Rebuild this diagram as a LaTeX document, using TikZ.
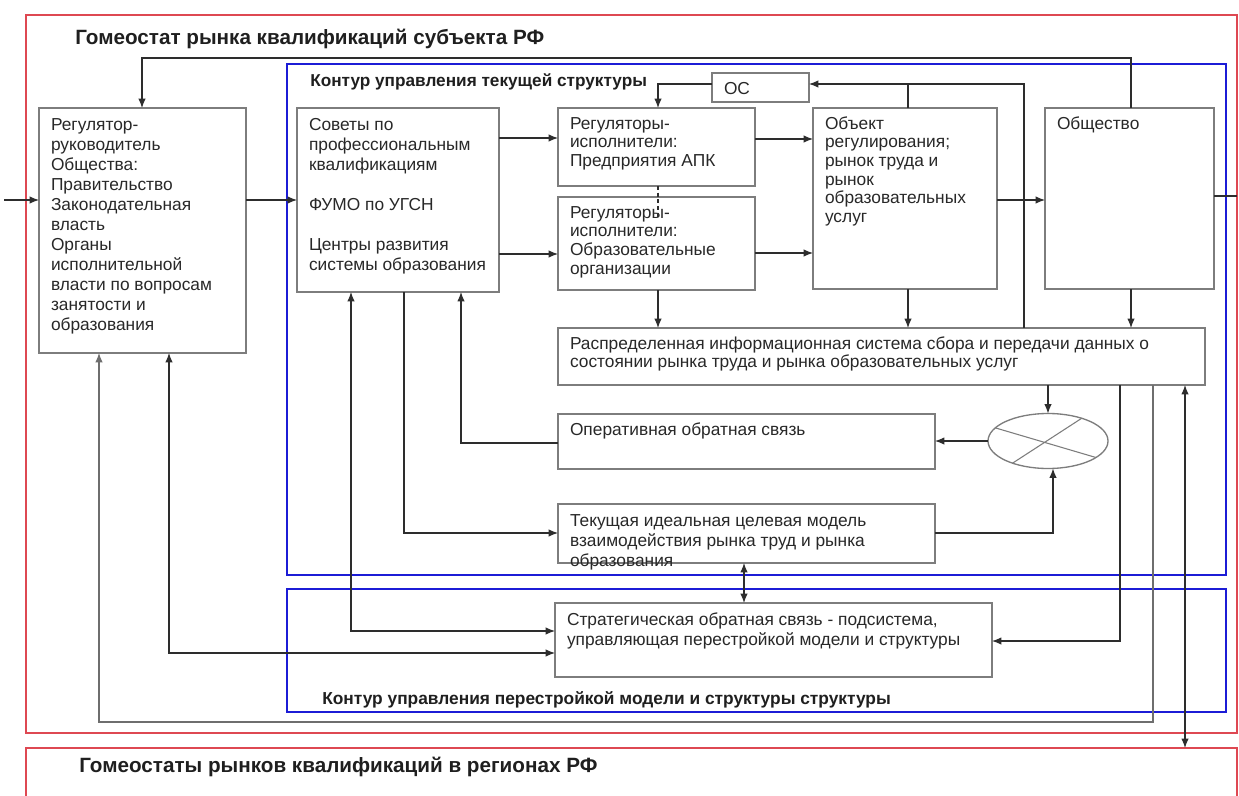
\documentclass[tikz,border=0pt]{standalone}
\usepackage{fontspec}
\setmainfont{Liberation Sans}
\usetikzlibrary{shapes.geometric}
\usetikzlibrary{positioning}
\usetikzlibrary{arrows.meta}
\definecolor{framered}{RGB}{222,72,82}
\definecolor{frameblue}{RGB}{28,28,214}
\definecolor{boxgray}{RGB}{125,125,125}
\definecolor{linegray}{RGB}{45,45,45}
\definecolor{routegray}{RGB}{110,110,110}
\definecolor{textgray}{RGB}{40,40,40}
\newcommand*{\BoxLines}[3]{\parbox[t][\dimexpr.75pt*#2-12pt\relax][t]{\dimexpr.75pt*#1-18pt\relax}{\begin{tabular}[t]{@{}l@{}}#3\end{tabular}}}
\tikzset{
    myarrow/.tip={Latex[length=7pt,width=5.5pt]},
    pxsize/.style 2 args={
        minimum width=#1*0.75pt,
        minimum height=#2*0.75pt,
        },
    myframe/.style={
        draw=#1,rectangle,anchor=north west,
        line width=1.6pt,inner sep=0pt,outer sep=0pt,
        },
    mybox/.style={
        draw=boxgray,rectangle,anchor=north west,
        line width=1pt,text=textgray,
        inner xsep=9pt,inner ysep=6pt,outer sep=0pt,
        font=\fontsize{13}{14}\selectfont,
        },
    myboxb/.style={
        mybox,font=\fontsize{13}{15}\selectfont,
        },
    mysum/.style={
        draw=boxgray,ellipse,line width=1pt,
        inner sep=0pt,outer sep=0pt,
        },
    plainnode/.style={
        anchor=west,inner sep=0pt,text=black!88,
        font=\fontsize{#1}{#1}\selectfont\bfseries,
        },
    plainnode/.default=13,
    conn/.style={draw=linegray,line width=0.8pt},
}

\begin{document}
\begin{tikzpicture}[x=0.75pt,y=-0.75pt]
    \useasboundingbox[fill=white] (0,0) rectangle (1239,796);
    \node[myframe=framered,pxsize={1211}{718}] (subj) at (26,15) {};
    \node[myframe=framered,pxsize={1211}{100}] (region) at (26,748) {};
    \node[myframe=frameblue,pxsize={939}{511}] (curloop) at (287,64) {};
    \node[myframe=frameblue,pxsize={939}{123}] (stratloop) at (287,589) {};
    \node[plainnode=15.5] (subjtitle) at (75,39) {Гомеостат рынка квалификаций субъекта РФ};
    \node[plainnode=12.9] (curtitle) at (310,82) {Контур управления текущей структуры};
    \node[plainnode] (strattitle) at (322,700) {Контур управления перестройкой модели и структуры структуры};
    \node[plainnode=15.5] (regiontitle) at (79,767) {Гомеостаты рынков квалификаций в регионах РФ};

    \node[myboxb] (reg) at (39,108) {\BoxLines{207}{245}{Регулятор-\\руководитель\\Общества:\\Правительство\\Законодательная\\власть\\Органы\\исполнительной\\власти по вопросам\\занятости и\\образования}};
    \node[myboxb] (sov) at (297,108) {\BoxLines{202}{184}{Советы по\\профессиональным\\квалификациям\\ \\ФУМО по УГСН\\ \\Центры развития\\системы образования}};
    \node[mybox] (apk) at (558,108) {\BoxLines{197}{78}{Регуляторы-\\исполнители:\\Предприятия АПК}};
    \node[mybox] (obraz) at (558,197) {\BoxLines{197}{93}{Регуляторы-\\исполнители:\\Образовательные\\организации}};
    \node[mybox] (os) at (712,73) {\BoxLines{97}{23}{ОС}};
    \node[mybox] (obj) at (813,108) {\BoxLines{184}{181}{Объект\\регулирования;\\рынок труда и\\рынок\\образовательных\\услуг}};
    \node[mybox] (obsh) at (1045,108) {\BoxLines{169}{181}{Общество}};
    \node[mybox] (is) at (558,328) {\BoxLines{647}{57}{Распределенная информационная система сбора и передачи данных о\\состоянии рынка труда и рынка образовательных услуг}};
    \node[mybox] (op) at (558,414) {\BoxLines{377}{55}{Оперативная обратная связь}};
    \node[myboxb] (model) at (558,504) {\BoxLines{377}{59}{Текущая идеальная целевая модель\\взаимодействия рынка труд и рынка\\образования}};
    \node[myboxb] (strat) at (555,603) {\BoxLines{437}{74}{Стратегическая обратная связь - подсистема,\\управляющая перестройкой модели и структуры}};
    \node[mysum,pxsize={120}{55}] (sum) at (1048,441) {};
    \draw[draw=boxgray,line width=0.8pt] (sum.166) -- (sum.-19) (sum.34) -- (sum.212);

    \coordinate (inp) at (4,200);
    \coordinate (outp) at (1237,196);
    \draw[conn,-myarrow] (inp) -- (inp -| reg.west);
    \draw[conn,-myarrow] (reg.east |- 0,200) -- (sov.west |- 0,200);
    \draw[conn,-myarrow] (obsh.north -| 1131,0) |- (142,58) -- (reg.north -| 142,0);
    \draw[conn,-myarrow] (sov.east |- 0,138) -- (apk.west |- 0,138);
    \draw[conn,-myarrow] (sov.east |- 0,254) -- (obraz.west |- 0,254);
    \draw[conn,-myarrow] (apk.east |- 0,139) -- (obj.west |- 0,139);
    \draw[conn,-myarrow] (obraz.east |- 0,253) -- (obj.west |- 0,253);
    \draw[conn,-myarrow] (obj.east |- 0,200) -- (obsh.west |- 0,200);
    \draw[conn] (obsh.east |- outp) -- (outp);
    \draw[conn,densely dashed] (apk.south -| 658,0) -- ++(0,31);
    \draw[conn,-myarrow] (is.north -| 1024,0) |- (os.east |- 0,84);
    \draw[conn] (obj.north -| 908,0) -- (908,84);
    \draw[conn,-myarrow] (os.west |- 0,84) -| (apk.north -| 658,0);
    \draw[conn,-myarrow] (obraz.south -| 658,0) -- (is.north -| 658,0);
    \draw[conn,-myarrow] (obj.south -| 908,0) -- (is.north -| 908,0);
    \draw[conn,-myarrow] (obsh.south -| 1131,0) -- (is.north -| 1131,0);
    \draw[conn,-myarrow] (is.south -| sum.north) -- (sum.north);
    \draw[conn,-myarrow] (sum.west) -- (op.east |- sum.west);
    \draw[conn,-myarrow] (model.east |- 0,533) -| (sum.south -| 1053,0);
    \draw[conn,-myarrow] (op.west |- 0,443) -| (sov.south -| 461,0);
    \draw[conn,-myarrow] (sov.south -| 404,0) |- (model.west |- 0,533);
    \draw[conn,myarrow-myarrow] (sov.south -| 351,0) |- (strat.west |- 0,631);
    \draw[conn,myarrow-myarrow] (reg.south -| 169,0) |- (strat.west |- 0,653);
    \draw[conn,draw=routegray,-myarrow] (is.south -| 1153,0) |- (99,722) -- (reg.south -| 99,0);
    \draw[conn,-myarrow] (is.south -| 1120,0) |- (strat.east |- 0,641);
    \draw[conn,myarrow-myarrow] (is.south -| 1185,0) -- (region.north -| 1185,0);
    \draw[conn,myarrow-myarrow] (model.south -| 744,0) -- (strat.north -| 744,0);
\end{tikzpicture}
\end{document}
